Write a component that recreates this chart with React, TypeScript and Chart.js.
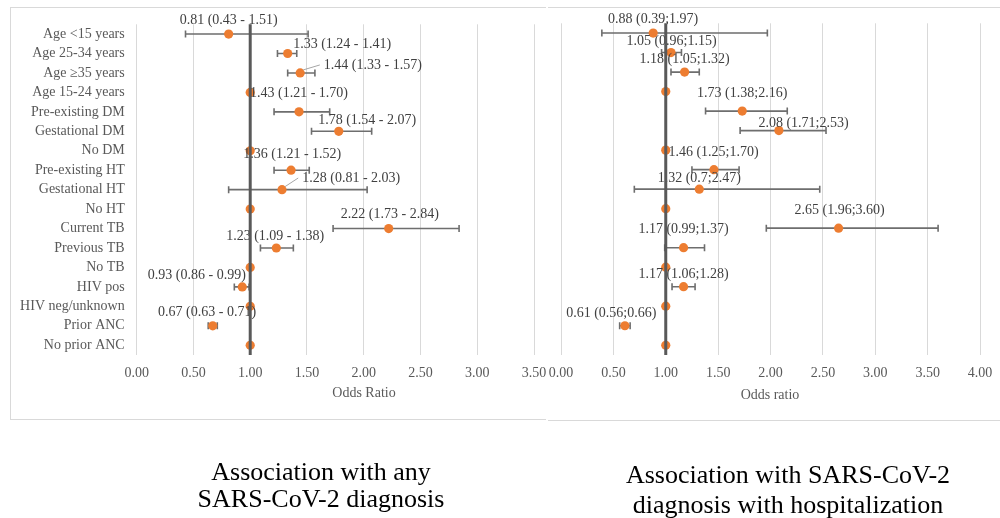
import React, { useEffect, useRef } from "react";
import { Chart, registerables } from "chart.js";

Chart.register(...registerables);

// ---------- data ----------
const CATEGORIES = [
  "Age <15 years",
  "Age 25-34 years",
  "Age \u226535 years",
  "Age 15-24 years",
  "Pre-existing DM",
  "Gestational DM",
  "No DM",
  "Pre-existing HT",
  "Gestational HT",
  "No HT",
  "Current TB",
  "Previous TB",
  "No TB",
  "HIV pos",
  "HIV neg/unknown",
  "Prior ANC",
  "No prior ANC",
];

// Panel 1: association with any SARS-CoV-2 diagnosis
const ANY_OR = [0.81, 1.33, 1.44, 1, 1.43, 1.78, 1, 1.36, 1.28, 1, 2.22, 1.23, 1, 0.93, 1, 0.67, 1];
const ANY_LOW = [0.43, 1.24, 1.33, null, 1.21, 1.54, null, 1.21, 0.81, null, 1.73, 1.09, null, 0.86, null, 0.63, null];
const ANY_HIGH = [1.51, 1.41, 1.57, null, 1.7, 2.07, null, 1.52, 2.03, null, 2.84, 1.38, null, 0.99, null, 0.71, null];
const ANY_LABELS = [
  "0.81 (0.43 - 1.51)", "1.33 (1.24 - 1.41)", "1.44 (1.33 - 1.57)", "",
  "1.43 (1.21 - 1.70)", "1.78 (1.54 - 2.07)", "", "1.36 (1.21 - 1.52)",
  "1.28 (0.81 - 2.03)", "", "2.22 (1.73 - 2.84)", "1.23 (1.09 - 1.38)", "",
  "0.93 (0.86 - 0.99)", "", "0.67 (0.63 - 0.71)", "",
];
// label anchor: centre in odds-ratio units, vertical shift in rows
const ANY_LABEL_X = [0.81, 1.81, 2.08, 0, 1.43, 2.03, 0, 1.37, 1.89, 0, 2.23, 1.22, 0, 0.53, 0, 0.62, 0];
const ANY_LABEL_DY = [-0.72, -0.49, -0.41, 0, -0.95, -0.56, 0, -0.82, -0.6, 0, -0.72, -0.62, 0, -0.6, 0, -0.68, 0];
const ANY_LEADER = [false, false, true, false, false, false, false, false, true, false, false, false, false, false, false, false, false];
const ANY_TICKS = ["0.00", "0.50", "1.00", "1.50", "2.00", "2.50", "3.00", "3.50"];

// Panel 2: association with SARS-CoV-2 diagnosis with hospitalization
const HOSP_OR = [0.88, 1.05, 1.18, 1, 1.73, 2.08, 1, 1.46, 1.32, 1, 2.65, 1.17, 1, 1.17, 1, 0.61, 1];
const HOSP_LOW = [0.39, 0.96, 1.05, null, 1.38, 1.71, null, 1.25, 0.7, null, 1.96, 0.99, null, 1.06, null, 0.56, null];
const HOSP_HIGH = [1.97, 1.15, 1.32, null, 2.16, 2.53, null, 1.7, 2.47, null, 3.6, 1.37, null, 1.28, null, 0.66, null];
const HOSP_LABELS = [
  "0.88 (0.39;1.97)", "1.05 (0.96;1.15)", "1.18 (1.05;1.32)", "",
  "1.73 (1.38;2.16)", "2.08 (1.71;2.53)", "", "1.46 (1.25;1.70)",
  "1.32 (0.7;2.47)", "", "2.65 (1.96;3.60)", "1.17 (0.99;1.37)", "",
  "1.17 (1.06;1.28)", "", "0.61 (0.56;0.66)", "",
];
const HOSP_LABEL_X = [0.88, 1.055, 1.18, 0, 1.73, 2.315, 0, 1.456, 1.32, 0, 2.66, 1.17, 0, 1.17, 0, 0.48, 0];
const HOSP_LABEL_DY = [-0.7, -0.58, -0.64, 0, -0.89, -0.39, 0, -0.89, -0.55, 0, -0.89, -0.94, 0, -0.65, 0, -0.62, 0];
const HOSP_LEADER = CATEGORIES.map(() => false);
const HOSP_TICKS = ["0.00", "0.50", "1.00", "1.50", "2.00", "2.50", "3.00", "3.50", "4.00"];

const REF_VALUE = 1;

const SERIF = "'Liberation Serif', 'Times New Roman', serif";
const FS = 14;

type PanelCfg = {
  width: number;
  left: number;
  or: number[];
  low: (number | null)[];
  high: (number | null)[];
  labels: string[];
  labelX: number[];
  labelDy: number[];
  leader: boolean[];
  ticks: string[];
  showCategories: boolean;
  padding: { left: number; top: number; right: number };
  yWidth: number;
  axisTitle: { text: string; x: number; y: number };
  title: { lines: string[]; x: number; baselines: number[] };
};

function makePlugin(cfg: PanelCfg) {
  return {
    id: "forest",
    beforeDatasetsDraw(chart: any) {
      const { ctx, scales } = chart;
      const x = scales.x;
      const y = scales.y;
      ctx.save();
      ctx.strokeStyle = "#6e6e6e";
      ctx.lineWidth = 1.6;
      cfg.low.forEach((lo, i) => {
        const hi = cfg.high[i];
        if (lo == null || hi == null) return;
        const py = y.getPixelForValue(i);
        const x1 = x.getPixelForValue(lo);
        const x2 = x.getPixelForValue(hi);
        ctx.beginPath();
        ctx.moveTo(x1, py);
        ctx.lineTo(x2, py);
        ctx.moveTo(x1, py - 3.5);
        ctx.lineTo(x1, py + 3.5);
        ctx.moveTo(x2, py - 3.5);
        ctx.lineTo(x2, py + 3.5);
        ctx.stroke();
      });
      ctx.restore();
    },
    afterDatasetsDraw(chart: any) {
      const { ctx, scales, chartArea } = chart;
      const x = scales.x;
      const y = scales.y;
      ctx.save();
      // data labels
      ctx.font = `${FS}px ${SERIF}`;
      ctx.fillStyle = "#404040";
      ctx.textAlign = "center";
      ctx.textBaseline = "middle";
      cfg.labels.forEach((t, i) => {
        if (!t) return;
        const lx = x.getPixelForValue(cfg.labelX[i]);
        const ly = y.getPixelForValue(i + cfg.labelDy[i]);
        ctx.fillText(t, lx, ly);
        if (cfg.leader[i]) {
          const w = ctx.measureText(t).width;
          const px = x.getPixelForValue(cfg.or[i]);
          const py = y.getPixelForValue(i);
          ctx.strokeStyle = "#a6a6a6";
          ctx.lineWidth = 1;
          ctx.beginPath();
          ctx.moveTo(px + 3, py - 3);
          ctx.lineTo(lx - w / 2 - 4, ly);
          ctx.stroke();
        }
      });
      // reference line at OR = 1
      const xr = x.getPixelForValue(REF_VALUE);
      ctx.strokeStyle = "#595959";
      ctx.lineWidth = 3;
      ctx.beginPath();
      ctx.moveTo(xr, chartArea.top);
      ctx.lineTo(xr, chartArea.bottom);
      ctx.stroke();
      // axis title
      ctx.font = `${FS}px ${SERIF}`;
      ctx.fillStyle = "#595959";
      ctx.fillText(cfg.axisTitle.text, cfg.axisTitle.x, cfg.axisTitle.y);
      // panel title
      ctx.font = `26px ${SERIF}`;
      ctx.fillStyle = "#000000";
      ctx.textBaseline = "alphabetic";
      cfg.title.lines.forEach((l, k) => {
        ctx.fillText(l, cfg.title.x, cfg.title.baselines[k]);
      });
      ctx.restore();
    },
  };
}

function Panel({ cfg }: { cfg: PanelCfg }) {
  const ref = useRef<HTMLCanvasElement>(null);
  useEffect(() => {
    const chart = new Chart(ref.current as HTMLCanvasElement, {
      type: "scatter",
      data: {
        labels: CATEGORIES,
        datasets: [
          {
            data: cfg.or.map((v, i) => ({ x: v, y: CATEGORIES[i] })) as any,
            backgroundColor: "#ED7D31",
            borderColor: "#ED7D31",
            borderWidth: 0,
            pointRadius: 4.6,
          },
        ],
      },
      options: {
        responsive: false,
        animation: false,
        devicePixelRatio: 1,
        layout: { padding: { left: cfg.padding.left, top: cfg.padding.top, right: cfg.padding.right, bottom: 0 } },
        plugins: { legend: { display: false }, tooltip: { enabled: false }, title: { display: false } },
        scales: {
          y: {
            type: "category",
            labels: CATEGORIES,
            offset: true,
            display: cfg.showCategories,
            grid: { display: false, drawTicks: false },
            border: { display: false },
            ticks: {
              autoSkip: false,
              color: "#595959",
              font: { family: SERIF, size: FS },
              padding: 12,
            },
            afterFit: (s: any) => {
              s.width = cfg.yWidth;
            },
          },
          x: {
            type: "linear",
            min: 0,
            max: (cfg.ticks.length - 1) * 0.5,
            grid: { color: "#D9D9D9", drawTicks: true, tickLength: 10, tickColor: "rgba(0,0,0,0)", lineWidth: 1 },
            border: { display: false },
            afterBuildTicks: (s: any) => {
              s.ticks = cfg.ticks.map((t) => ({ value: parseFloat(t) }));
            },
            ticks: {
              color: "#595959",
              font: { family: SERIF, size: FS },
              padding: 0,
              maxRotation: 0,
              callback: (v: any) => Number(v).toFixed(2),
            },
            afterFit: (s: any) => {
              s.height = 518 - 355;
            },
          },
        },
      } as any,
      plugins: [makePlugin(cfg)],
    });
    return () => chart.destroy();
  }, []);
  return (
    <div style={{ position: "absolute", left: cfg.left, top: 0, width: cfg.width, height: 518 }}>
      <canvas ref={ref} width={cfg.width} height={518} style={{ display: "block" }} />
    </div>
  );
}

const LEFT_CFG: PanelCfg = {
  width: 547,
  left: 0,
  or: ANY_OR,
  low: ANY_LOW,
  high: ANY_HIGH,
  labels: ANY_LABELS,
  labelX: ANY_LABEL_X,
  labelDy: ANY_LABEL_DY,
  leader: ANY_LEADER,
  ticks: ANY_TICKS,
  showCategories: true,
  padding: { left: 0, top: 24.3, right: 13 },
  yWidth: 136.7,
  axisTitle: { text: "Odds Ratio", x: 364, y: 393 },
  title: { lines: ["Association with any", "SARS-CoV-2 diagnosis"], x: 321, baselines: [480, 507] },
};

const RIGHT_CFG: PanelCfg = {
  width: 453,
  left: 547,
  or: HOSP_OR,
  low: HOSP_LOW,
  high: HOSP_HIGH,
  labels: HOSP_LABELS,
  labelX: HOSP_LABEL_X,
  labelDy: HOSP_LABEL_DY,
  leader: HOSP_LEADER,
  ticks: HOSP_TICKS,
  showCategories: false,
  padding: { left: 14, top: 23.3, right: 20 },
  yWidth: 0,
  axisTitle: { text: "Odds ratio", x: 223, y: 395 },
  title: { lines: ["Association with SARS-CoV-2", "diagnosis with hospitalization"], x: 241, baselines: [483, 513] },
};

const line = (l: number, t: number, w: number, h: number) => (
  <div style={{ position: "absolute", left: l, top: t, width: w, height: h, background: "#D9D9D9" }} />
);

export default function App() {
  useEffect(() => {
    document.body.style.margin = "0";
  }, []);
  return (
    <div style={{ position: "relative", width: 1000, height: 518, background: "#fff", overflow: "hidden" }}>
      {line(10, 7, 536, 1)}
      {line(10, 7, 1, 412)}
      {line(10, 419, 536, 1)}
      {line(548, 7, 452, 1)}
      {line(548, 420, 452, 1)}
      <Panel cfg={LEFT_CFG} />
      <Panel cfg={RIGHT_CFG} />
    </div>
  );
}
